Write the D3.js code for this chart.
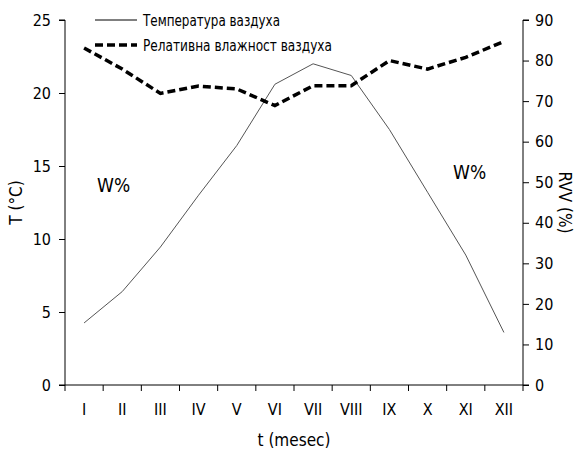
<!DOCTYPE html>
<html>
<head>
<meta charset="utf-8" />
<title>Temperatura i vlaznost</title>
<style type="text/css">
body { margin: 0; background: #fff; }
svg text { font-family: "DejaVu Sans Condensed", "DejaVu Sans", sans-serif; font-stretch: condensed; fill: #000; }
.axis path, .axis line { stroke: #000; stroke-width: 1; }
</style>
<script src="https://cdn.jsdelivr.net/npm/d3@7"></script>
</head>
<body>
<svg width="577" height="457"></svg>
<script type="text/javascript">

var months = ["I", "II", "III", "IV", "V", "VI", "VII", "VIII", "IX", "X", "XI", "XII"];
var temperature = [4.25, 6.4, 9.45, 13.0, 16.4, 20.6, 22.0, 21.2, 17.5, 13.2, 8.9, 3.6];
var humidity = [83.1, 77.9, 71.9, 73.7, 73.0, 68.9, 73.8, 73.8, 80.0, 77.9, 80.8, 84.7];
var leftTicks = [0, 5, 10, 15, 20, 25];
var rightTicks = [0, 10, 20, 30, 40, 50, 60, 70, 80, 90];
var legendLabels = ["Температура ваздуха", "Релативна влажност ваздуха"];

var svg = d3.select("svg"),
    margin = {top: 20, right: 54, bottom: 72, left: 65},
    width = 577 - margin.left - margin.right,
    height = 457 - margin.top - margin.bottom,
    g = svg.append("g").attr("transform", "translate(" + margin.left + "," + margin.top + ")");

var x = d3.scaleBand().domain(months).range([0, width]),
    yT = d3.scaleLinear().domain([0, 25]).range([height, 0]),
    yH = d3.scaleLinear().domain([0, 90]).range([height, 0]);

// x axis, ticks between categories
var xAxis = g.append("g")
    .attr("class", "axis")
    .attr("transform", "translate(0," + height + ")");
xAxis.append("line").attr("x1", 0).attr("x2", width).attr("stroke", "#000");
xAxis.selectAll(".tk")
    .data(d3.range(months.length + 1))
    .enter().append("line")
    .attr("x1", function(i) { return i * x.step(); })
    .attr("x2", function(i) { return i * x.step(); })
    .attr("y1", 0).attr("y2", 6)
    .attr("stroke", "#000");
xAxis.selectAll(".lbl")
    .data(months)
    .enter().append("text")
    .attr("x", function(d) { return x(d) + x.bandwidth() / 2; })
    .attr("y", 30)
    .attr("text-anchor", "middle")
    .style("font-size", "16px")
    .text(function(d) { return d; });

g.append("g")
    .attr("class", "axis")
    .call(d3.axisLeft(yT).tickValues(leftTicks).tickSize(6).tickPadding(8))
    .call(function(s) { s.select(".domain").attr("d", "M-6,0H0V" + height + "H-6"); })
    .selectAll("text").style("font-size", "16px").attr("font-family", null);

g.append("g")
    .attr("class", "axis")
    .attr("transform", "translate(" + width + ",0)")
    .call(d3.axisRight(yH).tickValues(rightTicks).tickSize(6).tickPadding(6))
    .call(function(s) { s.select(".domain").attr("d", "M6,0H0V" + height + "H6"); })
    .selectAll("text").style("font-size", "16px").attr("font-family", null);

// titles
svg.append("text")
    .attr("transform", "translate(22," + (margin.top + height / 2) + ") rotate(-90)")
    .attr("text-anchor", "middle")
    .style("font-size", "17px")
    .text("T (°C)");

svg.append("text")
    .attr("transform", "translate(559," + (margin.top + height / 2) + ") rotate(90)")
    .attr("text-anchor", "middle")
    .style("font-size", "17px")
    .text("RVV (%)");

svg.append("text")
    .attr("x", margin.left + width / 2)
    .attr("y", 446)
    .attr("text-anchor", "middle")
    .style("font-size", "17px")
    .text("t (mesec)");

// lines
var lineT = d3.line()
    .x(function(d, i) { return x(months[i]) + x.bandwidth() / 2; })
    .y(function(d) { return yT(d); });
var lineH = d3.line()
    .x(function(d, i) { return x(months[i]) + x.bandwidth() / 2; })
    .y(function(d) { return yH(d); });

g.append("path")
    .datum(temperature)
    .attr("d", lineT)
    .attr("fill", "none")
    .attr("stroke", "#555")
    .attr("stroke-width", 1);

g.append("path")
    .datum(humidity)
    .attr("d", lineH)
    .attr("fill", "none")
    .attr("stroke", "#000")
    .attr("stroke-width", 3.5)
    .attr("stroke-dasharray", "8,4");

// W% annotations
g.append("text").attr("x", 32).attr("y", 172).style("font-size", "19px").text("W%");
g.append("text").attr("x", 388).attr("y", 159).style("font-size", "19px").text("W%");

// legend
var legend = svg.append("g").attr("transform", "translate(95,20)");
legend.append("line").attr("x1", 0).attr("x2", 42).attr("y1", 0).attr("y2", 0)
    .attr("stroke", "#000").attr("stroke-width", 1);
legend.append("line").attr("x1", 0).attr("x2", 42).attr("y1", 25).attr("y2", 25)
    .attr("stroke", "#000").attr("stroke-width", 3.5).attr("stroke-dasharray", "8,4");
var legendWidths = [137, 189];
legend.selectAll(".lg")
    .data(legendLabels)
    .enter().append("text")
    .attr("x", 48)
    .attr("y", function(d, i) { return i * 25 + 6; })
    .attr("textLength", function(d, i) { return legendWidths[i]; })
    .attr("lengthAdjust", "spacingAndGlyphs")
    .style("font-size", "16px")
    .text(function(d) { return d; });

</script>
</body>
</html>
